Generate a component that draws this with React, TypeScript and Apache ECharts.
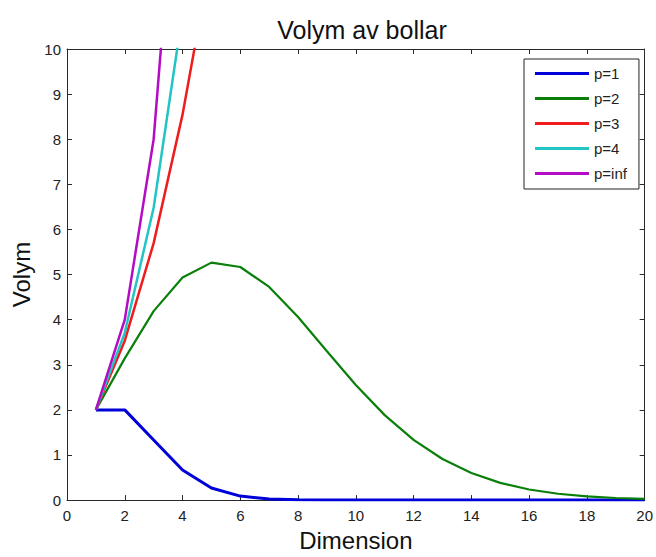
import React, { useEffect, useRef } from "react";
import * as echarts from "echarts";

const dims = [1, 2, 3, 4, 5, 6, 7, 8, 9, 10, 11, 12, 13, 14, 15, 16, 17, 18, 19, 20];
const p1 = [2, 2, 1.333, 0.667, 0.267, 0.089, 0.025, 0.006, 0.0014, 0.0003, 0.00005, 0, 0, 0, 0, 0, 0, 0, 0, 0];
const p2 = [2, 3.142, 4.189, 4.935, 5.264, 5.168, 4.725, 4.059, 3.299, 2.55, 1.884, 1.335, 0.911, 0.599, 0.381, 0.235, 0.141, 0.082, 0.047, 0.026];
const p3 = [2, 3.533, 5.697, 8.545, 12.08];
const p4 = [2, 3.708, 6.482, 10.8];
const pInf = [2, 4, 8, 16];
const seriesNames = ["p=1", "p=2", "p=3", "p=4", "p=inf"];
const seriesColors = ["#0000d8", "#0a800a", "#ee1c1c", "#22c4c4", "#b40cc4"];
const seriesWidths = [3, 2.2, 2.5, 2.5, 2.5];
const xTicks = [0, 2, 4, 6, 8, 10, 12, 14, 16, 18, 20];
const yTicks = [0, 1, 2, 3, 4, 5, 6, 7, 8, 9, 10];

const FONT = "'Liberation Sans', Arial, sans-serif";
const AX = "#2a2a2a";

export default function App() {
  const ref = useRef<HTMLDivElement>(null);
  useEffect(() => {
    if (!ref.current) return;
    const chart = echarts.init(ref.current, undefined, { renderer: "svg" });
    const allVals = [p1, p2, p3, p4, pInf];
    const tickAxis = (position: string, showLabel: boolean, ticks: number[], extra: any) => ({
      type: "value",
      position,
      min: ticks[0],
      max: ticks[ticks.length - 1],
      interval: ticks[1] - ticks[0],
      axisLine: { show: true, onZero: false, lineStyle: { color: AX, width: 1 } },
      axisTick: { show: true, inside: true, length: 5, lineStyle: { color: AX } },
      axisLabel: { show: showLabel, color: "#222", fontSize: 15, fontFamily: FONT },
      splitLine: { show: false },
      ...extra,
    });
    chart.setOption({
      animation: false,
      backgroundColor: "#ffffff",
      title: {
        text: "Volym av bollar",
        left: 357,
        textAlign: "center",
        top: 12,
        textStyle: { fontSize: 25, fontWeight: "normal", color: "#111", fontFamily: FONT },
      },
      grid: { left: 67, right: 8, top: 49, bottom: 51 },
      xAxis: [
        tickAxis("bottom", true, xTicks, {
          axisLabel: { show: true, color: "#222", fontSize: 15, fontFamily: FONT, margin: 8 },
          name: "Dimension",
          nameLocation: "middle",
          nameGap: 20,
          nameTextStyle: { fontSize: 24, color: "#111", fontFamily: FONT },
        }),
        tickAxis("top", false, xTicks, {}),
      ],
      yAxis: [
        tickAxis("left", true, yTicks, {
          axisLabel: { show: true, color: "#222", fontSize: 15, fontFamily: FONT, margin: 6 },
          name: "Volym",
          nameLocation: "middle",
          nameGap: 34,
          nameTextStyle: { fontSize: 24, color: "#111", fontFamily: FONT },
        }),
        tickAxis("right", false, yTicks, {}),
      ],
      legend: {
        orient: "vertical",
        left: 524,
        top: 59,
        backgroundColor: "#ffffff",
        borderColor: "#222",
        borderWidth: 1,
        borderRadius: 0,
        padding: [7, 12, 8, 11],
        icon: "rect",
        itemWidth: 54,
        itemHeight: 3,
        itemGap: 10,
        textStyle: { fontSize: 15, color: "#222", fontFamily: FONT },
        data: seriesNames,
      },
      series: seriesNames.map((name, i) => ({
        name,
        type: "line",
        xAxisIndex: 0,
        yAxisIndex: 0,
        symbol: "none",
        clip: true,
        color: seriesColors[i],
        lineStyle: { color: seriesColors[i], width: seriesWidths[i] },
        data: allVals[i].map((v, j) => [dims[j], v]),
        z: 2 + i,
      })),
    });
    return () => chart.dispose();
  }, []);
  return (
    <div
      ref={ref}
      style={{ position: "fixed", left: 0, top: 0, width: 656, height: 557, background: "#fff" }}
    />
  );
}
